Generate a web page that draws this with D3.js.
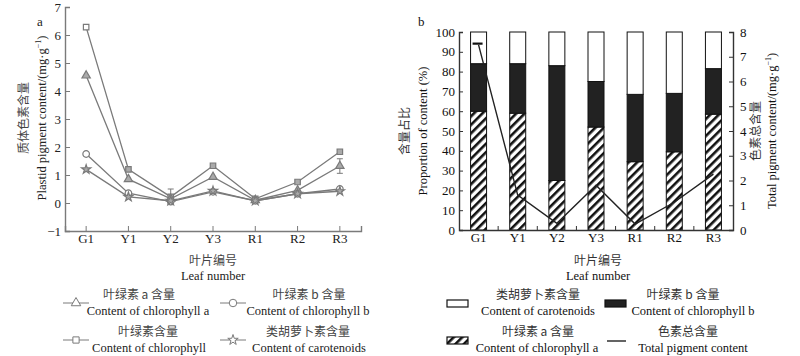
<!DOCTYPE html>
<html><head><meta charset="utf-8">
<script src="https://cdn.jsdelivr.net/npm/d3@7"></script>
<style>
body{margin:0;background:#fff;}
</style></head>
<body><svg id="c" width="800" height="356"></svg>
<script>
const categories = ["G1","Y1","Y2","Y3","R1","R2","R3"];
// Panel a: pigment contents (mg/g)
const chlA = [4.55, 0.85, 0.15, 0.93, 0.10, 0.45, 1.32];
const chlB = [1.75, 0.35, 0.05, 0.40, 0.08, 0.33, 0.50];
const chlTotal = [6.28, 1.20, 0.22, 1.33, 0.15, 0.75, 1.83];
const carot = [1.20, 0.22, 0.08, 0.43, 0.08, 0.33, 0.42];
const errChlTotal = [0, 0, 0.28, 0, 0, 0, 0];
const errChlA = [0, 0, 0, 0, 0, 0, 0.26];
const leftTicks = [-1,0,1,2,3,4,5,6,7];
// Panel b: proportions (%)
const propA = [60, 59, 25, 52, 34.5, 39.5, 58.5];
const propB = [24, 25, 58, 23, 34, 29.5, 23];
const propCar = [16, 16, 17, 25, 31.5, 31, 18.5];
const totalPigment = [7.48, 1.41, 0.27, 1.81, 0.24, 1.12, 2.26];
const errTotal = [0.05, 0, 0, 0, 0, 0, 0];
const propTicks = [0,10,20,30,40,50,60,70,80,90,100];
const totTicks = [0,1,2,3,4,5,6,7,8];

const SERIF = '"Liberation Serif","Times New Roman",serif';
const CJK = '"Noto Sans CJK SC",sans-serif';
const grey = "#7a7a7a";

const svg = d3.select("#c");
const defs = svg.append("defs");
const pat = defs.append("pattern").attr("id","hatch").attr("patternUnits","userSpaceOnUse")
  .attr("width",6).attr("height",6).attr("patternTransform","rotate(45)");
pat.append("rect").attr("width",6).attr("height",6).attr("fill","#fff");
pat.append("rect").attr("x",0).attr("width",2.6).attr("height",6).attr("fill","#111");

function en(g, x, y, t, fill, anchor){
  return g.append("text").attr("x",x).attr("y",y).attr("text-anchor",anchor||"middle")
    .attr("font-family",SERIF).attr("font-size",12.5).attr("fill",fill).text(t);
}
function cn(g, x, y, t, fill){
  return g.append("text").attr("x",x).attr("y",y).attr("text-anchor","middle")
    .attr("font-family",CJK).attr("font-size",12).attr("fill",fill).text(t);
}

// ---------- Panel a ----------
const xa = d3.scaleBand().domain(categories).range([65,361]);
const ya = d3.scaleLinear().domain([-1,7]).range([231,7]);
const ga = svg.append("g");
const axL = ga.append("g").attr("transform","translate(65,0)")
  .call(d3.axisLeft(ya).tickValues(leftTicks).tickSize(-5).tickPadding(4).tickFormat(d=>d<0?"\u22121":d));
const axB = ga.append("g").attr("transform","translate(0,231)")
  .call(d3.axisBottom(xa).tickSize(-5).tickPadding(3));
[axL,axB].forEach(a=>{a.attr("font-family",SERIF);
  a.select(".domain").attr("stroke",grey).attr("stroke-width",1.4);
  a.selectAll(".tick line").attr("stroke",grey);
  a.selectAll("text").attr("font-size",13).attr("fill","#222").attr("font-family",SERIF);});

const cx = c => xa(c)+xa.bandwidth()/2;
const line = d3.line().x((d,i)=>cx(categories[i])).y(d=>ya(d));
const seriesA = [
  {v:chlTotal, m:"square", err:errChlTotal},
  {v:chlA, m:"triangle", err:errChlA},
  {v:chlB, m:"circle", err:null},
  {v:carot, m:"star", err:null}
];
const symType = {square:d3.symbolSquare, triangle:d3.symbolTriangle, circle:d3.symbolCircle, star:d3.symbolStar};
const symSize = {square:30, triangle:30, circle:34, star:26};
seriesA.forEach(s=>{
  ga.append("path").attr("d",line(s.v)).attr("fill","none").attr("stroke",grey).attr("stroke-width",1.3);
});
seriesA.forEach(s=>{
  if(s.err) s.v.forEach((v,i)=>{ if(!s.err[i]) return;
    const x=cx(categories[i]);
    ga.append("path").attr("d",`M${x},${ya(v-s.err[i])}V${ya(v+s.err[i])}M${x-3},${ya(v-s.err[i])}h6M${x-3},${ya(v+s.err[i])}h6`)
      .attr("stroke",grey).attr("fill","none");
  });
  s.v.forEach((v,i)=>{
    ga.append("path").attr("d",d3.symbol(symType[s.m],symSize[s.m])())
      .attr("transform",`translate(${cx(categories[i])},${ya(v)})`)
      .attr("fill", (s.m==="circle" || (s.m==="square" && i===0)) ? "#fff" : "#aaa")
      .attr("stroke",grey).attr("stroke-width",1.2);
  });
});
en(ga,37,26,"a","#222","start").attr("font-size",13);
ga.append("text").attr("transform","translate(28,118) rotate(-90)").attr("text-anchor","middle")
  .attr("font-size",12).attr("fill","#444").attr("font-family",CJK).text("质体色素含量");
const ylab = ga.append("text").attr("transform","translate(46,118) rotate(-90)").attr("text-anchor","middle")
  .attr("font-size",12.5).attr("fill","#222").attr("font-family",SERIF);
ylab.append("tspan").text("Plastid pigment content/(mg·g");
ylab.append("tspan").attr("dy",-5).attr("font-size",8).text("−1");
ylab.append("tspan").attr("dy",5).text(")");
cn(ga,213,265,"叶片编号","#444");
en(ga,213,280,"Leaf number","#222");

// legend a
const legA = [
  {m:"triangle", x:76, y:303, cn:"叶绿素 a 含量", en:"Content of chlorophyll a", cnx:139, enx:148},
  {m:"circle", x:233, y:303, cn:"叶绿素 b 含量", en:"Content of chlorophyll b", cnx:309, enx:308},
  {m:"square", x:76, y:340, cn:"叶绿素含量", en:"Content of chlorophyll", cnx:148, enx:149},
  {m:"star", x:233, y:340, cn:"类胡萝卜素含量", en:"Content of carotenoids", cnx:308, enx:309}
];
legA.forEach(l=>{
  ga.append("line").attr("x1",l.x-13).attr("x2",l.x+13).attr("y1",l.y).attr("y2",l.y).attr("stroke",grey);
  ga.append("path").attr("d",d3.symbol(symType[l.m],symSize[l.m]*1.3)()).attr("transform",`translate(${l.x},${l.y})`)
    .attr("fill","#fff").attr("stroke",grey);
  cn(ga,l.cnx,l.y-4,l.cn,"#444");
  en(ga,l.enx,l.y+12,l.en,"#222");
});

// ---------- Panel b ----------
const xb = d3.scaleBand().domain(categories).range([459,733]);
const yb = d3.scaleLinear().domain([0,100]).range([230,32]);
const yr = d3.scaleLinear().domain([0,8]).range([230,32]);
const gb = svg.append("g");
const bw = 16;
const bcx = c => xb(c)+xb.bandwidth()/2;
categories.forEach((c,i)=>{
  const segs = [
    {y0:0, y1:propA[i], fill:"url(#hatch)"},
    {y0:propA[i], y1:propA[i]+propB[i], fill:"#222"},
    {y0:propA[i]+propB[i], y1:propA[i]+propB[i]+propCar[i], fill:"#fff"}
  ];
  segs.forEach(s=>{
    gb.append("rect").attr("x",bcx(c)-bw/2).attr("width",bw).attr("y",yb(s.y1)).attr("height",yb(s.y0)-yb(s.y1))
      .attr("fill",s.fill).attr("stroke","#111").attr("stroke-width",1);
  });
});
const bL = gb.append("g").attr("transform","translate(459,0)")
  .call(d3.axisLeft(yb).tickValues(propTicks).tickSize(-4).tickPadding(4));
const bR = gb.append("g").attr("transform","translate(733,0)")
  .call(d3.axisRight(yr).tickValues(totTicks).tickSize(-4).tickPadding(7));
const bB = gb.append("g").attr("transform","translate(0,230)")
  .call(d3.axisBottom(xb).tickSize(0).tickPadding(3));
gb.append("g").selectAll("line").data(categories.slice(1)).join("line")
  .attr("x1",d=>xb(d)).attr("x2",d=>xb(d)).attr("y1",230).attr("y2",226).attr("stroke","#333");
[bL,bR,bB].forEach(a=>{a.attr("font-family",SERIF);
  a.select(".domain").attr("stroke","#333").attr("stroke-width",1.4);
  a.selectAll(".tick line").attr("stroke","#333");
  a.selectAll("text").attr("font-size",13).attr("fill","#111").attr("font-family",SERIF);});
const tline = d3.line().x((d,i)=>bcx(categories[i])).y(d=>yr(d));
gb.append("path").attr("d",tline(totalPigment)).attr("fill","none").attr("stroke","#222").attr("stroke-width",1.4);
totalPigment.forEach((v,i)=>{ if(!errTotal[i]) return;
  const x=bcx(categories[i]);
  gb.append("path").attr("d",`M${x-6},${yr(v+errTotal[i])}h10`).attr("stroke","#111").attr("stroke-width",2.2);
});
en(gb,418,26,"b","#111","start").attr("font-size",13);
gb.append("text").attr("transform","translate(409,131) rotate(-90)").attr("text-anchor","middle")
  .attr("font-size",12).attr("fill","#333").attr("font-family",CJK).text("含量占比");
gb.append("text").attr("transform","translate(427,131) rotate(-90)").attr("text-anchor","middle")
  .attr("font-size",12.5).attr("fill","#111").attr("font-family",SERIF).text("Proportion of content (%)");
gb.append("text").attr("transform","translate(760,131) rotate(-90)").attr("text-anchor","middle")
  .attr("font-size",12).attr("fill","#333").attr("font-family",CJK).text("色素总含量");
const rlab = gb.append("text").attr("transform","translate(776,131) rotate(-90)").attr("text-anchor","middle")
  .attr("font-size",12.5).attr("fill","#111").attr("font-family",SERIF);
rlab.append("tspan").text("Total pigment content/(mg·g");
rlab.append("tspan").attr("dy",-5).attr("font-size",8).text("−1");
rlab.append("tspan").attr("dy",5).text(")");
cn(gb,598,265,"叶片编号","#333");
en(gb,598,280,"Leaf number","#111");

const legB = [
  {t:"rect", fill:"#fff", x:447, y:300, cn:"类胡萝卜素含量", en:"Content of carotenoids", cnx:538, enx:538, ly:303},
  {t:"rect", fill:"#222", x:605, y:300, cn:"叶绿素 b 含量", en:"Content of chlorophyll b", cnx:683, enx:693, ly:303},
  {t:"rect", fill:"url(#hatch)", x:447, y:337, cn:"叶绿素 a 含量", en:"Content of chlorophyll a", cnx:538, enx:537, ly:340},
  {t:"line", x:607, y:341, cn:"色素总含量", en:"Total pigment content", cnx:688, enx:693, ly:340}
];
legB.forEach(l=>{
  if(l.t==="rect") gb.append("rect").attr("x",l.x).attr("y",l.y).attr("width",21).attr("height",7)
    .attr("fill",l.fill).attr("stroke","#111").attr("stroke-width",1.2);
  else gb.append("line").attr("x1",l.x).attr("x2",l.x+19).attr("y1",l.y).attr("y2",l.y).attr("stroke","#222").attr("stroke-width",1.4);
  cn(gb,l.cnx,l.ly-4,l.cn,"#333");
  en(gb,l.enx,l.ly+12,l.en,"#111");
});
</script></body></html>
